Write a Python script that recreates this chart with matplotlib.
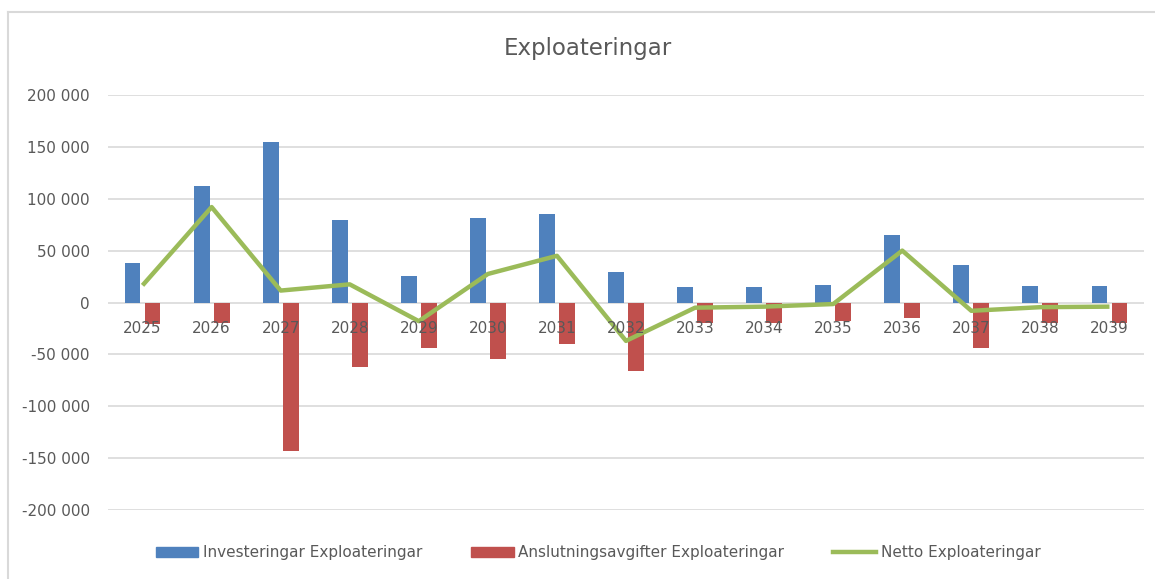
import numpy as np
import matplotlib
matplotlib.use("Agg")
import matplotlib.pyplot as plt
from matplotlib.patches import Patch
from matplotlib.lines import Line2D
from matplotlib.ticker import FuncFormatter

years = ["2025", "2026", "2027", "2028", "2029", "2030", "2031", "2032",
         "2033", "2034", "2035", "2036", "2037", "2038", "2039"]
investeringar = [38000, 112000, 155000, 80000, 26000, 81000, 85000, 29500,
                 15000, 15000, 16500, 65000, 36000, 15500, 15500]
anslutning = [-21000, -20000, -143500, -62500, -44000, -54000, -40000, -66000,
              -20000, -19500, -18000, -15000, -44000, -19500, -19500]
netto = [16500, 92000, 11500, 17500, -18000, 27500, 45000, -37000,
         -5000, -4000, -1500, 50000, -8000, -4500, -4000]

blue = "#4F81BD"
red = "#C0504D"
green = "#9BBB59"
txt = "#595959"
grid = "#D9D9D9"

fig = plt.figure(figsize=(11.55, 5.79), dpi=100)
ax = fig.add_axes([108/1155, 1-510/579, (1144-108)/1155, (510-95)/579])

x = np.arange(len(years))
w = 0.23
off = 0.145
ax.bar(x - off, investeringar, w, color=blue, zorder=2)
ax.bar(x + off, anslutning, w, color=red, zorder=2)
ax.plot(x, netto, color=green, lw=3.2, zorder=3, solid_capstyle="butt")

ax.set_xlim(-0.5, len(years) - 0.5)
ax.set_ylim(-200000, 200000)
ax.set_yticks(np.arange(-200000, 200001, 50000))
ax.yaxis.set_major_formatter(FuncFormatter(lambda v, p: f"{int(v):,}".replace(",", " ")))
ax.grid(axis="y", color=grid, lw=1.2, zorder=0)
ax.set_axisbelow(True)

for s in ax.spines.values():
    s.set_visible(False)
ax.spines["bottom"].set_position(("data", 0))
ax.set_xticks(x)
ax.set_xticklabels(years)
ax.tick_params(axis="x", length=0, pad=13, labelsize=11, labelcolor=txt)
ax.tick_params(axis="y", length=0, pad=13, labelsize=11, labelcolor=txt)
# year labels sit on top of the bars, like in Excel
ax.xaxis.set_zorder(5)

fig.text(588/1155, 1-48/579, "Exploateringar", ha="center", va="center",
         fontsize=16.5, color=txt)

handles = [Patch(color=blue), Patch(color=red), Line2D([], [], color=green, lw=3.2)]
labels = ["Investeringar Exploateringar", "Anslutningsavgifter Exploateringar",
          "Netto Exploateringar"]
leg = fig.legend(handles, labels, loc="center", bbox_to_anchor=(598/1155, 1-553/579),
                 ncol=3, frameon=False, fontsize=11, handlelength=2.8,
                 handleheight=0.6, handletextpad=0.3, columnspacing=3.2)
for t in leg.get_texts():
    t.set_color(txt)

# chart border (left and top edges visible)
fig.add_artist(Line2D([8/1155, 8/1155], [0, 1-12/579], color=grid, lw=1.5))
fig.add_artist(Line2D([8/1155, 1], [1-12/579, 1-12/579], color=grid, lw=1.5))

fig.savefig("out.png", dpi=100)
